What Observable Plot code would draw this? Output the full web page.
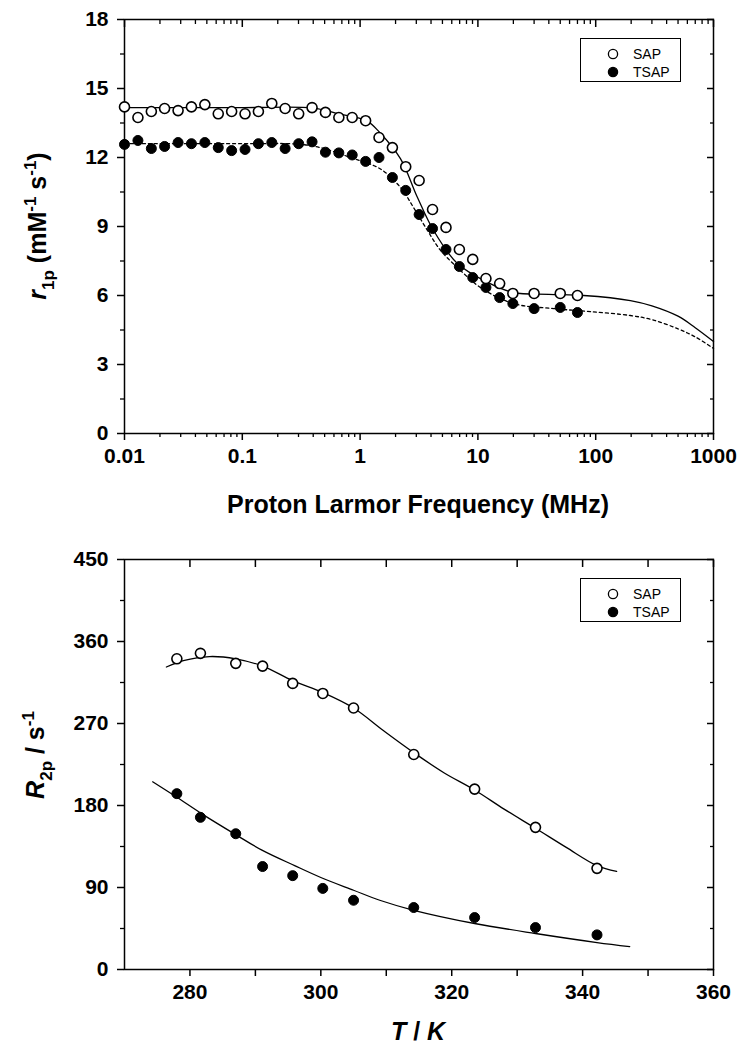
<!DOCTYPE html>
<html><head><meta charset="utf-8">
<script src="https://cdn.jsdelivr.net/npm/d3@7"></script>
<script src="https://cdn.jsdelivr.net/npm/@observablehq/plot@0.6"></script>
<style>
body{margin:0;background:#fff;}
#c{position:relative;width:746px;height:1050px;overflow:hidden;background:#fff;}
#c svg{display:block;}
.legend{position:absolute;left:580px;width:101px;height:44px;border:1.5px solid #000;background:#fff;
 font-family:"Liberation Sans",Arial,sans-serif;font-size:14px;color:#000;box-sizing:border-box;}
.legend .row{position:absolute;left:0;height:18px;display:flex;align-items:center;}
.legend svg{margin-left:26px;margin-right:14px;}
</style></head><body><div id="c"></div>
<script>
// ---------- Top panel: NMRD profiles ----------
const freqMHz = [0.01, 0.013, 0.0169, 0.0219, 0.0285, 0.037, 0.0481, 0.0625, 0.0812, 0.1055,
  0.137, 0.178, 0.231, 0.301, 0.391, 0.508, 0.66, 0.857, 1.114, 1.447,
  1.88, 2.44, 3.17, 4.12, 5.36, 6.96, 9.04, 11.7, 15.3, 19.8, 30, 50, 70];
const r1pSAP = [14.2, 13.74, 14.0, 14.13, 14.04, 14.2, 14.3, 13.9, 14.0, 13.9,
  14.0, 14.35, 14.13, 13.9, 14.17, 13.96, 13.74, 13.74, 13.6, 12.87,
  12.43, 11.6, 11.0, 9.74, 8.96, 8.0, 7.57, 6.74, 6.52, 6.09, 6.09, 6.09, 6.0];
const r1pTSAP = [12.57, 12.74, 12.39, 12.48, 12.65, 12.6, 12.65, 12.43, 12.3, 12.35,
  12.6, 12.65, 12.39, 12.6, 12.68, 12.23, 12.2, 12.11, 11.83, 12.0,
  11.13, 10.57, 9.52, 8.91, 8.0, 7.26, 6.78, 6.35, 5.91, 5.65, 5.43, 5.48, 5.26];
const fitFreqSAP = [0.01, 0.1, 0.4, 0.66, 1.13, 1.46, 2.2, 3.07, 4.2, 6.7, 12.1, 20, 40, 79, 197, 300, 500, 700, 1000];
const fitR1SAP = [14.17, 14.17, 14.15, 13.9, 13.6, 13.1, 11.95, 10.26, 8.83, 7.39, 6.57, 6.13, 6.05, 6.0, 5.78, 5.55, 5.1, 4.6, 4.0];
const fitFreqTSAP = [0.01, 0.1, 0.3, 0.46, 0.83, 1.49, 2.2, 2.84, 3.73, 4.82, 6.7, 10.5, 20, 44, 90, 197, 300, 500, 700, 1000];
const fitR1TSAP = [12.6, 12.6, 12.58, 12.43, 12.0, 11.5, 10.7, 9.83, 8.83, 7.96, 7.22, 6.35, 5.65, 5.43, 5.3, 5.13, 4.95, 4.55, 4.2, 3.7];
const freqTicks = [0.01, 0.1, 1, 10, 100, 1000];
const freqTickLabels = ["0.01", "0.1", "1", "10", "100", "1000"];
const r1Ticks = [0, 3, 6, 9, 12, 15, 18];

// ---------- Bottom panel: R2p vs T ----------
const tempK = [278, 281.6, 287, 291.1, 295.7, 300.3, 305, 314.2, 323.5, 332.8, 342.2];
const r2pSAP = [341, 347, 336, 333, 314, 303, 287, 236, 198, 156, 111];
const r2pTSAP = [193, 167, 149, 113, 103, 89, 76, 68, 57, 46, 38];
const fitTSAPt = [276.4, 279, 283, 287, 291.1, 295.7, 300.3, 305, 309.6, 314.2, 318.8, 323.5, 328, 332.8, 337.5, 342.2, 345.2];
const fitR2SAP = [332, 339, 343.5, 341, 333, 317, 304, 287, 262, 238, 216, 197, 176, 155, 134, 114, 107.6];
const fitTTSAP = [274.3, 278, 282, 287, 291, 296, 300, 305, 309, 314.2, 323.5, 332.8, 342.2, 347.2];
const fitR2TSAP = [206, 189, 170, 148, 131, 114, 101, 87, 76, 65, 50.5, 39.5, 29.6, 25.2];
const tTicks = [280, 300, 320, 340, 360];
const tMinor = [290, 310, 330, 350];
const r2Ticks = [0, 90, 180, 270, 360, 450];

const series = ["SAP", "TSAP"];

// build tables
const nmrd = freqMHz.flatMap((f, i) => [
  {f, v: r1pSAP[i], s: "SAP"}, {f, v: r1pTSAP[i], s: "TSAP"}]);
const nmrdFit = [
  ...fitFreqSAP.map((f, i) => ({f, v: fitR1SAP[i], s: "SAP"})),
  ...fitFreqTSAP.map((f, i) => ({f, v: fitR1TSAP[i], s: "TSAP"}))];
const r2 = tempK.flatMap((t, i) => [
  {t, v: r2pSAP[i], s: "SAP"}, {t, v: r2pTSAP[i], s: "TSAP"}]);
const r2Fit = [
  ...fitTSAPt.map((t, i) => ({t, v: fitR2SAP[i], s: "SAP"})),
  ...fitTTSAP.map((t, i) => ({t, v: fitR2TSAP[i], s: "TSAP"}))];

const minorLog = [];
for (let e = -2; e < 3; e++) for (let m = 2; m <= 9; m++) minorLog.push(m * Math.pow(10, e));
const midTicks = a => a.slice(1).map((d, i) => (d + a[i]) / 2);

const FONT = '"Liberation Sans", Arial, Helvetica, sans-serif';
const common = {
  width: 746, marginLeft: 124, marginRight: 33,
  style: {fontFamily: FONT, fontSize: "21px", fontWeight: "bold", color: "#000", background: "transparent", overflow: "visible"}
};
const noLab = () => "";

const chartTop = Plot.plot({
  ...common, height: 540, marginTop: 19, marginBottom: 107,
  x: {type: "log", domain: [0.01, 1000]},
  y: {domain: [0, 18]},
  marks: [
    Plot.frame({stroke: "#000", strokeWidth: 1.5}),
    Plot.axisX({ticks: freqTicks, tickSize: 7, tickPadding: 8, strokeWidth: 1.5, label: null,
      tickFormat: d => freqTickLabels[freqTicks.indexOf(d)]}),
    Plot.axisX({ticks: minorLog, tickSize: 4, strokeWidth: 1.3, tickFormat: noLab, label: null}),
    Plot.axisX({anchor: "top", ticks: freqTicks, tickSize: -7, strokeWidth: 1.5, tickFormat: noLab, label: null}),
    Plot.axisX({anchor: "top", ticks: minorLog, tickSize: -4, strokeWidth: 1.3, tickFormat: noLab, label: null}),
    Plot.axisY({ticks: r1Ticks, tickSize: 7, tickPadding: 9, strokeWidth: 1.5, label: null}),
    Plot.axisY({ticks: midTicks(r1Ticks), tickSize: 4, strokeWidth: 1.3, tickFormat: noLab, label: null}),
    Plot.axisY({anchor: "right", ticks: r1Ticks, tickSize: -7, strokeWidth: 1.5, tickFormat: noLab, label: null}),
    Plot.axisY({anchor: "right", ticks: midTicks(r1Ticks), tickSize: -4, strokeWidth: 1.3, tickFormat: noLab, label: null}),
    Plot.line(nmrdFit.filter(d => d.s === "SAP"), {x: "f", y: "v", stroke: "#000", strokeWidth: 1.3, curve: "catmull-rom"}),
    Plot.line(nmrdFit.filter(d => d.s === "TSAP"), {x: "f", y: "v", stroke: "#000", strokeWidth: 1.3, strokeDasharray: "3,3", curve: "catmull-rom"}),
    Plot.dot(nmrd.filter(d => d.s === "TSAP"), {x: "f", y: "v", r: 5, fill: "#000", stroke: "#000", strokeWidth: 1}),
    Plot.dot(nmrd.filter(d => d.s === "SAP"), {x: "f", y: "v", r: 5, fill: "#fff", stroke: "#000", strokeWidth: 1.6})
  ]
});

const chartBottom = Plot.plot({
  ...common, height: 510, marginTop: 19, marginBottom: 81,
  x: {domain: [270, 360]},
  y: {domain: [0, 450]},
  marks: [
    Plot.frame({stroke: "#000", strokeWidth: 1.5}),
    Plot.axisX({ticks: tTicks, tickSize: 7, tickPadding: 8, strokeWidth: 1.5, label: null, tickFormat: d => String(d)}),
    Plot.axisX({ticks: tMinor, tickSize: 7, strokeWidth: 1.5, tickFormat: noLab, label: null}),
    Plot.axisX({anchor: "top", ticks: [...tTicks, ...tMinor], tickSize: -7, strokeWidth: 1.5, tickFormat: noLab, label: null}),
    Plot.axisY({ticks: r2Ticks, tickSize: 7, tickPadding: 9, strokeWidth: 1.5, label: null}),
    Plot.axisY({ticks: midTicks(r2Ticks), tickSize: 4, strokeWidth: 1.3, tickFormat: noLab, label: null}),
    Plot.axisY({anchor: "right", ticks: r2Ticks, tickSize: -7, strokeWidth: 1.5, tickFormat: noLab, label: null}),
    Plot.axisY({anchor: "right", ticks: midTicks(r2Ticks), tickSize: -4, strokeWidth: 1.3, tickFormat: noLab, label: null}),
    Plot.line(r2Fit, {x: "t", y: "v", z: "s", stroke: "#000", strokeWidth: 1.3, curve: "catmull-rom"}),
    Plot.dot(r2.filter(d => d.s === "TSAP"), {x: "t", y: "v", r: 5, fill: "#000", stroke: "#000", strokeWidth: 1}),
    Plot.dot(r2.filter(d => d.s === "SAP"), {x: "t", y: "v", r: 5, fill: "#fff", stroke: "#000", strokeWidth: 1.6})
  ]
});

// axis titles with italic, sub- and superscripts
function title(svg, x, y, rot, parts, size) {
  const t = d3.select(svg).append("text")
    .attr("transform", `translate(${x},${y})` + (rot ? " rotate(-90)" : ""))
    .attr("text-anchor", "middle").attr("font-family", FONT).attr("font-weight", "bold")
    .attr("font-size", size).attr("fill", "#000");
  let shift = 0;
  for (const p of parts) {
    const sp = t.append("tspan").text(p.t);
    let target = 0, fs = size;
    if (p.sub) { target = size * 0.3; fs = size * 0.68; }
    if (p.sup) { target = -size * 0.4; fs = size * 0.68; }
    sp.attr("font-size", fs).attr("dy", target - shift);
    shift = target;
    if (p.i) sp.attr("font-style", "italic");
  }
}
title(chartTop, 418, 513, false, [{t: "Proton Larmor Frequency (MHz)"}], 25);
title(chartTop, 46, 226, true, [{t: "r", i: true}, {t: "1p", sub: true}, {t: " (mM"}, {t: "-1", sup: true}, {t: " s"}, {t: "-1", sup: true}, {t: ")"}], 25);
title(chartBottom, 418, 500, false, [{t: "T", i: true}, {t: " / "}, {t: "K", i: true}], 25);
title(chartBottom, 44, 215, true, [{t: "R", i: true}, {t: "2p", sub: true}, {t: " / s"}, {t: "-1", sup: true}], 25);

const c = document.getElementById("c");
c.appendChild(chartTop);
c.appendChild(chartBottom);

function legend(topPx) {
  const L = document.createElement("div");
  L.className = "legend";
  L.style.top = topPx + "px";
  series.forEach((s, i) => {
    const row = document.createElement("div");
    row.className = "row";
    row.style.top = (6 + i * 18) + "px";
    row.innerHTML = `<svg width="12" height="12"><circle cx="6" cy="6" r="4.6" fill="${s === "SAP" ? "#fff" : "#000"}" stroke="#000" stroke-width="1.3"/></svg><span>${s}</span>`;
    L.appendChild(row);
  });
  c.appendChild(L);
}
legend(38);
legend(578);
</script></body></html>
